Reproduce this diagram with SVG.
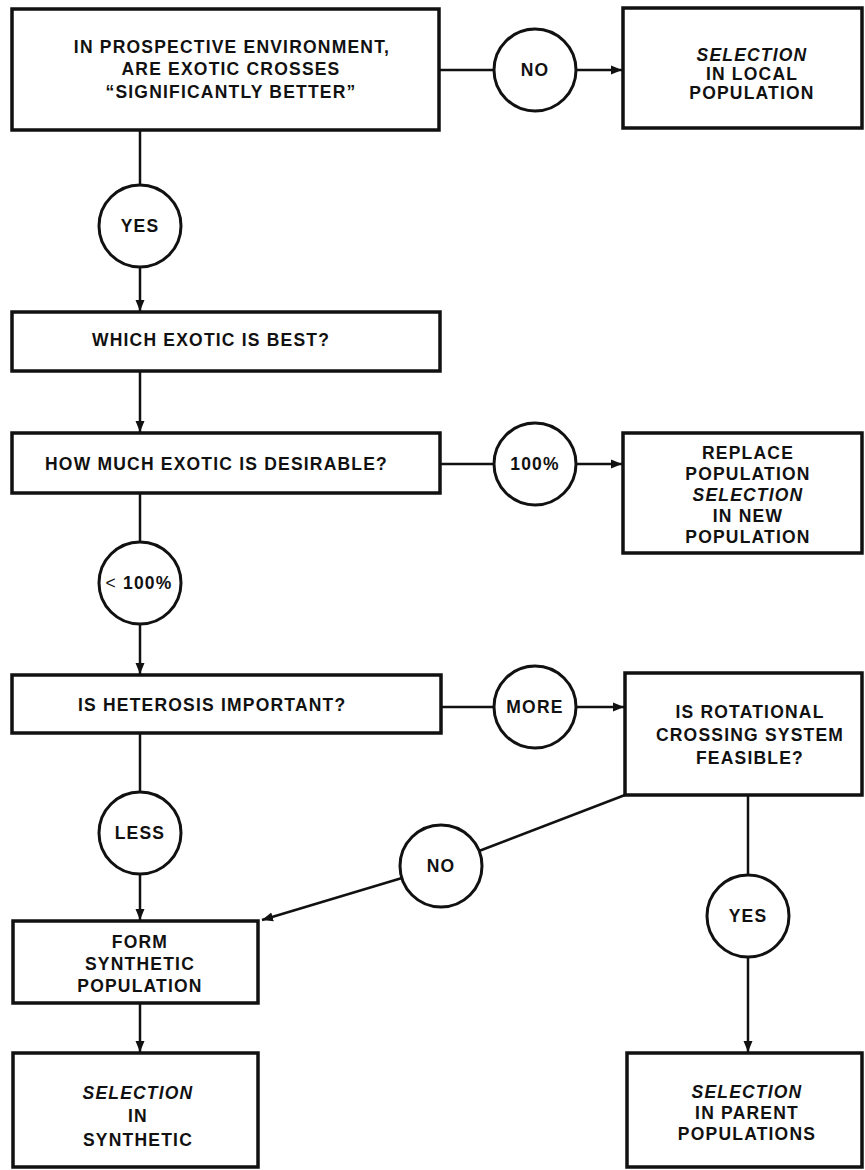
<svg xmlns="http://www.w3.org/2000/svg" width="865" height="1170" viewBox="0 0 865 1170">
<style>
  .box { fill: #fff; stroke: #111; stroke-width: 3.5; }
  .circ { fill: #fff; stroke: #111; stroke-width: 3; }
  .t { font-family: "Liberation Sans", Arial, sans-serif; font-weight: bold; font-size: 17.5px; letter-spacing: 1.2px; fill: #111; }
  .c { text-anchor: middle; }
  .i { font-style: italic; }
  .ln { stroke: #111; stroke-width: 2.5; fill: none; }
</style>
<defs>
  <marker id="ah" markerUnits="userSpaceOnUse" markerWidth="12" markerHeight="12" viewBox="0 0 12 12" refX="11" refY="6" orient="auto">
    <path d="M0,1.5 L11,6 L0,10.5 Z" fill="#111"/>
  </marker>
</defs>

<g id="connectors">
  <line class="ln" x1="439" y1="70" x2="494" y2="70"/>
  <line class="ln" x1="576" y1="70" x2="622" y2="70" marker-end="url(#ah)"/>
  <line class="ln" x1="140" y1="130" x2="140" y2="185"/>
  <line class="ln" x1="140" y1="267" x2="140" y2="311" marker-end="url(#ah)"/>
  <line class="ln" x1="140" y1="371" x2="140" y2="432" marker-end="url(#ah)"/>
  <line class="ln" x1="440" y1="464" x2="494" y2="464"/>
  <line class="ln" x1="576" y1="464" x2="622" y2="464" marker-end="url(#ah)"/>
  <line class="ln" x1="140" y1="493" x2="140" y2="542"/>
  <line class="ln" x1="140" y1="624" x2="140" y2="674" marker-end="url(#ah)"/>
  <line class="ln" x1="441" y1="707" x2="494" y2="707"/>
  <line class="ln" x1="576" y1="707" x2="624" y2="707" marker-end="url(#ah)"/>
  <line class="ln" x1="140" y1="733" x2="140" y2="792"/>
  <line class="ln" x1="140" y1="874" x2="140" y2="920" marker-end="url(#ah)"/>
  <line class="ln" x1="748" y1="795" x2="748" y2="875"/>
  <line class="ln" x1="748" y1="957" x2="748" y2="1052" marker-end="url(#ah)"/>
  <line class="ln" x1="625" y1="795" x2="479" y2="851"/>
  <line class="ln" x1="402" y1="878" x2="262" y2="920" marker-end="url(#ah)"/>
  <line class="ln" x1="140" y1="1003" x2="140" y2="1052" marker-end="url(#ah)"/>
</g>

<g id="q-exotic-better">
  <rect class="box" x="12" y="9" width="427" height="121"/>
  <text class="t c" x="232" y="53">IN PROSPECTIVE ENVIRONMENT,</text>
  <text class="t c" x="231" y="75">ARE EXOTIC CROSSES</text>
  <text class="t c" x="231" y="98">“SIGNIFICANTLY BETTER”</text>
</g>

<g id="c-no1">
  <circle class="circ" cx="535" cy="70" r="41"/>
  <text class="t c" x="535" y="76">NO</text>
</g>

<g id="selection-local">
  <rect class="box" x="623" y="8" width="239" height="120"/>
  <text class="t c i" x="752" y="61">SELECTION</text>
  <text class="t c" x="752" y="80">IN LOCAL</text>
  <text class="t c" x="752" y="99">POPULATION</text>
</g>

<g id="c-yes1">
  <circle class="circ" cx="140" cy="226" r="41"/>
  <text class="t c" x="140" y="232">YES</text>
</g>

<g id="q-which-exotic">
  <rect class="box" x="12" y="312" width="428" height="59"/>
  <text class="t" x="92" y="346">WHICH EXOTIC IS BEST?</text>
</g>

<g id="q-how-much">
  <rect class="box" x="12" y="433" width="428" height="60"/>
  <text class="t" x="45" y="470">HOW MUCH EXOTIC IS DESIRABLE?</text>
</g>

<g id="c-100">
  <circle class="circ" cx="535" cy="464" r="41"/>
  <text class="t c" x="535" y="470">100%</text>
</g>

<g id="replace-population">
  <rect class="box" x="623" y="433" width="239" height="120"/>
  <text class="t c" x="748" y="459">REPLACE</text>
  <text class="t c" x="748" y="480">POPULATION</text>
  <text class="t c i" x="748" y="501">SELECTION</text>
  <text class="t c" x="748" y="522">IN NEW</text>
  <text class="t c" x="748" y="543">POPULATION</text>
</g>

<g id="c-less100">
  <circle class="circ" cx="140" cy="583" r="41"/>
  <text class="t c" x="139" y="589"><tspan font-weight="normal">&lt;</tspan> 100%</text>
</g>

<g id="q-heterosis">
  <rect class="box" x="12" y="675" width="429" height="58"/>
  <text class="t" x="78" y="711">IS HETEROSIS IMPORTANT?</text>
</g>

<g id="c-more">
  <circle class="circ" cx="535" cy="707" r="41"/>
  <text class="t c" x="535" y="713">MORE</text>
</g>

<g id="q-rotational">
  <rect class="box" x="625" y="673" width="237" height="122"/>
  <text class="t c" x="750" y="718">IS ROTATIONAL</text>
  <text class="t c" x="750" y="741">CROSSING SYSTEM</text>
  <text class="t c" x="750" y="764">FEASIBLE?</text>
</g>

<g id="c-less">
  <circle class="circ" cx="140" cy="833" r="41"/>
  <text class="t c" x="140" y="839">LESS</text>
</g>

<g id="c-no2">
  <circle class="circ" cx="441" cy="866" r="41"/>
  <text class="t c" x="441" y="872">NO</text>
</g>

<g id="c-yes2">
  <circle class="circ" cx="748" cy="916" r="41"/>
  <text class="t c" x="748" y="922">YES</text>
</g>

<g id="form-synthetic">
  <rect class="box" x="13" y="921" width="245" height="82"/>
  <text class="t c" x="140" y="948">FORM</text>
  <text class="t c" x="140" y="970">SYNTHETIC</text>
  <text class="t c" x="140" y="992">POPULATION</text>
</g>

<g id="selection-synthetic">
  <rect class="box" x="13" y="1053" width="245" height="114"/>
  <text class="t c i" x="138" y="1099">SELECTION</text>
  <text class="t c" x="138" y="1122">IN</text>
  <text class="t c" x="138" y="1146">SYNTHETIC</text>
</g>

<g id="selection-parent">
  <rect class="box" x="627" y="1053" width="235" height="114"/>
  <text class="t c i" x="747" y="1098">SELECTION</text>
  <text class="t c" x="747" y="1119">IN PARENT</text>
  <text class="t c" x="747" y="1140">POPULATIONS</text>
</g>
</svg>
